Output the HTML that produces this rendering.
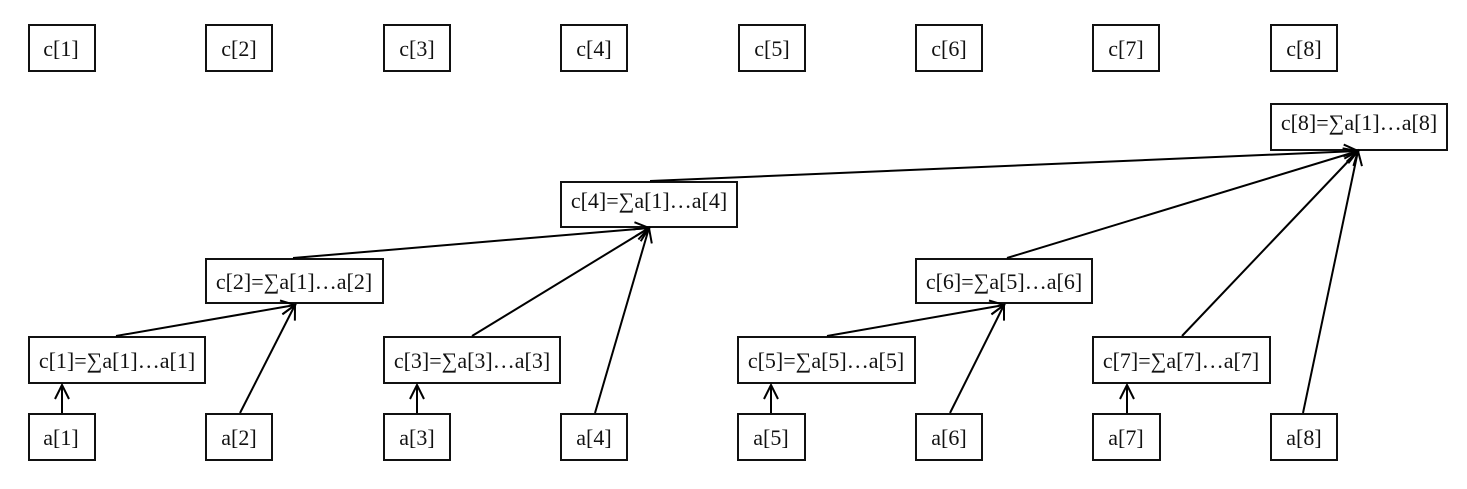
<!DOCTYPE html>
<html>
<head>
<meta charset="utf-8">
<style>
html,body{margin:0;padding:0;background:#fff;}
svg{display:block;}
text{font-family:"Liberation Serif","DejaVu Serif",serif;font-size:22px;fill:#111;}
</style>
</head>
<body>
<svg width="1467" height="489" viewBox="0 0 1467 489" xmlns="http://www.w3.org/2000/svg">
<defs>
<marker id="ah" markerUnits="userSpaceOnUse" markerWidth="24" markerHeight="24" viewBox="-18 -12 24 24" refX="0" refY="0" orient="auto">
<path d="M-14,-7 L0,0 L-14,7" fill="none" stroke="#000" stroke-width="2"/>
</marker>
</defs>
<g fill="#fff" stroke="#111" stroke-width="2">
<rect x="29" y="25" width="66" height="46"/>
<rect x="206" y="25" width="66" height="46"/>
<rect x="384" y="25" width="66" height="46"/>
<rect x="561" y="25" width="66" height="46"/>
<rect x="739" y="25" width="66" height="46"/>
<rect x="916" y="25" width="66" height="46"/>
<rect x="1093" y="25" width="66" height="46"/>
<rect x="1271" y="25" width="66" height="46"/>
<rect x="1271" y="104" width="176" height="46"/>
<rect x="561" y="182" width="176" height="45"/>
<rect x="206" y="259" width="177" height="44"/>
<rect x="916" y="259" width="176" height="44"/>
<rect x="29" y="337" width="176" height="46"/>
<rect x="384" y="337" width="176" height="46"/>
<rect x="738" y="337" width="177" height="46"/>
<rect x="1093" y="337" width="177" height="46"/>
<rect x="29" y="414" width="66" height="46"/>
<rect x="206" y="414" width="66" height="46"/>
<rect x="384" y="414" width="66" height="46"/>
<rect x="561" y="414" width="66" height="46"/>
<rect x="738" y="414" width="67" height="46"/>
<rect x="916" y="414" width="66" height="46"/>
<rect x="1093" y="414" width="67" height="46"/>
<rect x="1271" y="414" width="66" height="46"/>
</g>
<g stroke="#000" stroke-width="2" fill="none" marker-end="url(#ah)">
<line x1="62" y1="413" x2="62" y2="385"/>
<line x1="417" y1="413" x2="417" y2="385"/>
<line x1="771" y1="413" x2="771" y2="385"/>
<line x1="1127" y1="413" x2="1127" y2="385"/>
<line x1="116" y1="336" x2="295" y2="305"/>
<line x1="240" y1="413" x2="295" y2="305"/>
<line x1="827" y1="336" x2="1004" y2="305"/>
<line x1="950" y1="413" x2="1004" y2="305"/>
<line x1="293" y1="258" x2="649" y2="228"/>
<line x1="472" y1="336" x2="649" y2="228"/>
<line x1="595" y1="413" x2="649" y2="228"/>
<line x1="650" y1="181" x2="1358" y2="151"/>
<line x1="1007" y1="258" x2="1358" y2="151"/>
<line x1="1182" y1="336" x2="1358" y2="151"/>
<line x1="1303" y1="413" x2="1358" y2="151"/>
</g>
<g text-anchor="middle">
<text x="61" y="56">c[1]</text>
<text x="239" y="56">c[2]</text>
<text x="417" y="56">c[3]</text>
<text x="594" y="56">c[4]</text>
<text x="772" y="56">c[5]</text>
<text x="949" y="56">c[6]</text>
<text x="1126" y="56">c[7]</text>
<text x="1304" y="56">c[8]</text>
<text x="1359" y="130">c[8]=∑a[1]…a[8]</text>
<text x="649" y="208">c[4]=∑a[1]…a[4]</text>
<text x="294" y="289">c[2]=∑a[1]…a[2]</text>
<text x="1004" y="289">c[6]=∑a[5]…a[6]</text>
<text x="117" y="368">c[1]=∑a[1]…a[1]</text>
<text x="472" y="368">c[3]=∑a[3]…a[3]</text>
<text x="826" y="368">c[5]=∑a[5]…a[5]</text>
<text x="1181" y="368">c[7]=∑a[7]…a[7]</text>
<text x="61" y="445">a[1]</text>
<text x="239" y="445">a[2]</text>
<text x="417" y="445">a[3]</text>
<text x="594" y="445">a[4]</text>
<text x="771" y="445">a[5]</text>
<text x="949" y="445">a[6]</text>
<text x="1126" y="445">a[7]</text>
<text x="1304" y="445">a[8]</text>
</g>
</svg>
</body>
</html>
